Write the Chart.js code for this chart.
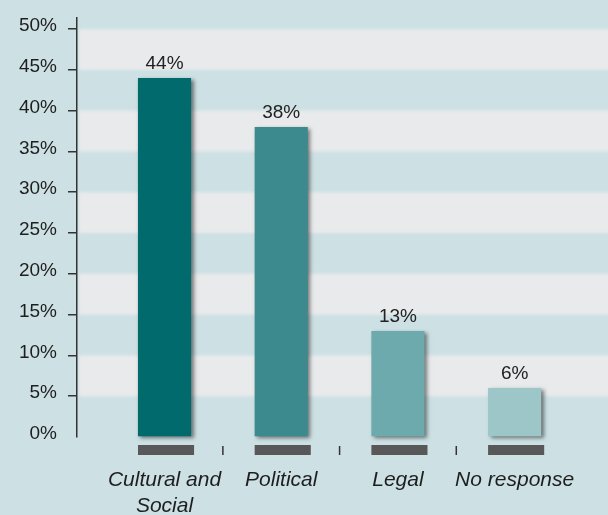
<!DOCTYPE html>
<html>
<head>
<meta charset="utf-8">
<script src="https://cdn.jsdelivr.net/npm/chart.js@4.4.1/dist/chart.umd.min.js"></script>
<style>
  html, body { margin: 0; padding: 0; background: #cde1e4; }
  #wrap { width: 608px; height: 515px; }
</style>
</head>
<body>
<div id="wrap"><canvas id="chart" width="608" height="515"></canvas></div>
<script>
const categories = [['Cultural and', 'Social'], 'Political', 'Legal', 'No response'];
const shares = [44, 38, 13, 6];
const barColors = ['#006a6d', '#3c8a8d', '#6daaad', '#9dc6c9'];
const yTicks = [0, 5, 10, 15, 20, 25, 30, 35, 40, 45, 50];

Chart.defaults.font.family = '"Liberation Sans", Arial, sans-serif';

// pale background with lighter bands every other 5% step
const backdrop = {
  id: 'backdrop',
  beforeDraw(chart) {
    const { ctx, chartArea, scales: { y } } = chart;
    ctx.save();
    ctx.fillStyle = '#cde1e4';
    ctx.fillRect(0, 0, chart.width, chart.height);
    ctx.filter = 'blur(1.5px)';
    ctx.fillStyle = '#e8eaec';
    for (let v = 50; v > 0; v -= 10) {
      const top = y.getPixelForValue(v);
      const bottom = y.getPixelForValue(v - 5);
      ctx.fillRect(chartArea.left + 2, top, chart.width + 20, bottom - top);
    }
    ctx.restore();
  }
};

// drop shadow on bars, then the grey plinths, separators and value labels
const barDecor = {
  id: 'barDecor',
  beforeDatasetsDraw(chart) {
    const ctx = chart.ctx;
    ctx.save();
    ctx.shadowColor = 'rgba(0, 0, 0, 0.5)';
    ctx.shadowBlur = 4;
    ctx.shadowOffsetX = 2.5;
    ctx.shadowOffsetY = 2;
  },
  afterDatasetsDraw(chart) {
    const ctx = chart.ctx;
    ctx.restore();

    const bars = chart.getDatasetMeta(0).data;
    const y0 = chart.scales.y.getPixelForValue(0);

    ctx.save();
    ctx.fillStyle = '#585858';
    bars.forEach(function(bar) {
      ctx.fillRect(bar.x - bar.width / 2, y0 + 8, bar.width + 3, 10);
    });

    ctx.fillStyle = '#333';
    for (let i = 1; i < bars.length; i++) {
      const sx = (bars[i - 1].x + bars[i].x) / 2;
      ctx.fillRect(sx - 0.75, y0 + 9, 1.5, 9);
    }

    ctx.fillStyle = '#222';
    ctx.font = '19px "Liberation Sans", Arial, sans-serif';
    ctx.textAlign = 'center';
    ctx.textBaseline = 'alphabetic';
    bars.forEach(function(bar, i) {
      ctx.fillText(shares[i] + '%', bar.x, bar.y - 9);
    });
    ctx.restore();
  }
};

const chart = new Chart(document.getElementById('chart'), {
  type: 'bar'
, data: {
    datasets: [{
      data: shares.map(function(v, i) { return { x: i, y: v }; })
    , backgroundColor: barColors
    , borderWidth: 0
    , barPercentage: 0.455
    , categoryPercentage: 1
    , clip: false
    }]
  }
, plugins: [backdrop, barDecor]
, options: {
    responsive: false
  , devicePixelRatio: 1
  , animation: false
  , layout: { padding: { top: 18, right: 0, bottom: 0, left: 0 } }
  , plugins: {
      legend: { display: false }
    , tooltip: { enabled: false }
    }
  , scales: {
      x: {
        type: 'linear'
      , min: -0.75
      , max: 3.8
      , offset: false
      , grid: { display: false, drawTicks: false, offset: false }
      , border: { display: false }
      , afterBuildTicks: function(scale) {
          scale.ticks = categories.map(function(c, i) { return { value: i }; });
        }
      , afterFit: function(scale) {
          scale.height = 78;
          scale.paddingLeft = 0;
          scale.paddingRight = 0;
        }
      , ticks: {
          padding: 30
        , autoSkip: false
        , maxRotation: 0
        , color: '#1e1e1e'
        , font: { size: 21, style: 'italic', lineHeight: 1.24 }
        , callback: function(v) { return categories[v]; }
        }
      }
    , y: {
        min: 0
      , max: 51.35
      , afterBuildTicks: function(scale) {
          scale.ticks = yTicks.map(function(v) { return { value: v }; });
        }
      , afterFit: function(scale) {
          scale.width = 77;
          scale.paddingTop = 0;
          scale.paddingBottom = 0;
        }
      , grid: {
          drawOnChartArea: false
        , drawTicks: true
        , tickLength: 9
        , lineWidth: 1.5
        , color: function(ctx) { return ctx.tick && ctx.tick.value === 0 ? 'rgba(0,0,0,0)' : '#333'; }
        }
      , border: { color: '#333', width: 1.5 }
      , ticks: {
          padding: 11
        , labelOffset: -3
        , color: '#1e1e1e'
        , font: { size: 19 }
        , callback: function(v) { return v + '%'; }
        }
      }
    }
  }
});
</script>
</body>
</html>
